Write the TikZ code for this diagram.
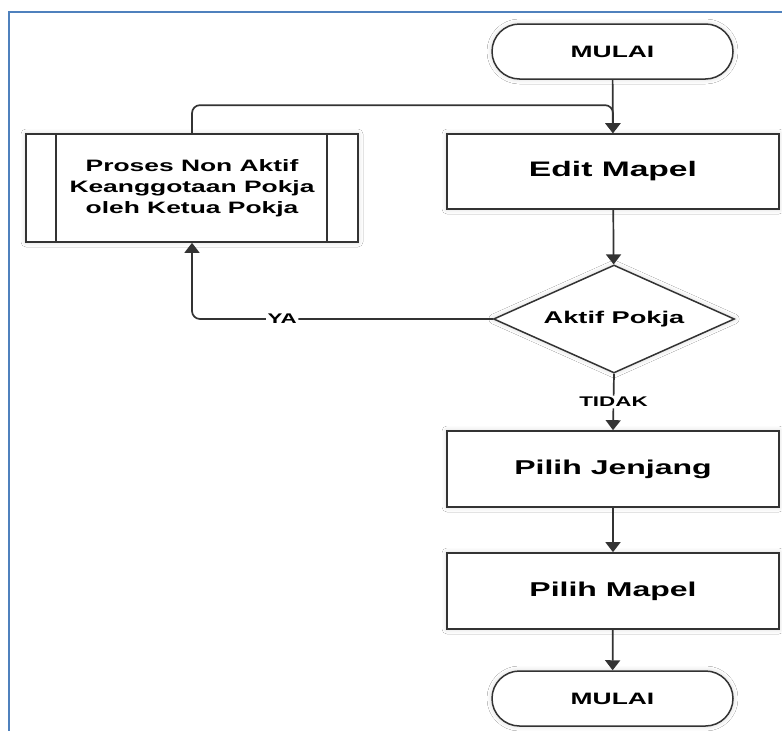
\documentclass[tikz,border=0pt]{standalone}
\usepackage{fontspec}
\newfontfamily\flowfont{Liberation Sans}[FakeStretch=1.6]
\usetikzlibrary{shapes.geometric,shapes.misc,arrows.meta,shadows.blur}
\definecolor{frameblue}{HTML}{4F81BD}
\definecolor{edge}{HTML}{333333}
\tikzset{
  glowy/.style={blur shadow={shadow xshift=0pt,shadow yshift=0pt,shadow blur radius=5pt,shadow opacity=18}},
  procbox/.style={rectangle, draw=edge, line width=1.7pt, fill=white, minimum width=332pt, minimum height=76pt, inner sep=0pt, font=\flowfont\bfseries\fontsize{20}{24}\selectfont, glowy},
  termbox/.style={rounded rectangle, draw=edge, line width=1.5pt, fill=white, minimum width=241pt, minimum height=55pt, inner sep=0pt, font=\flowfont\bfseries\fontsize{16.5}{19}\selectfont, glowy},
  decbox/.style={diamond, draw=edge, line width=1.5pt, fill=white, minimum width=241pt, minimum height=108pt, shape aspect=2.23, inner sep=0pt, font=\flowfont\bfseries\fontsize{17}{20}\selectfont, glowy},
  conn/.style={draw=edge, line width=1.7pt, -{Triangle[length=10pt,width=15pt]}, rounded corners=8pt},
  lbl/.style={fill=white, inner sep=1.5pt, text=black, font=\flowfont\bfseries\fontsize{14}{16}\selectfont}
}
\begin{document}
\begin{tikzpicture}[x=1pt,y=-1pt]
\useasboundingbox (0,0) rectangle (782,731);
\fill[white] (0,0) rectangle (782,731);
\draw[frameblue, line width=2.4pt] (9,731) -- (9,12) -- (782,12);

\node[termbox] (start) at (612.5,51.5) {MULAI};
\node[procbox, minimum height=75pt, font=\flowfont\bfseries\fontsize{21}{25}\selectfont] (edit) at (613,171.5) {Edit Mapel};
\node[procbox, minimum height=108pt, align=center, font=\flowfont\bfseries\fontsize{16.5}{21}\selectfont] (pro) at (192,188) {Proses Non Aktif\\Keanggotaan Pokja\\oleh Ketua Pokja};
\draw[edge, line width=1.7pt] ([xshift=31pt]pro.north west) -- ([xshift=31pt]pro.south west);
\draw[edge, line width=1.7pt] ([xshift=-32pt]pro.north east) -- ([xshift=-32pt]pro.south east);
\node[decbox] (dec) at (614,319) {Aktif Pokja};
\node[procbox] (jen) at (613,469) {Pilih Jenjang};
\node[procbox] (map) at (613,591) {Pilih Mapel};
\node[termbox] (stop) at (612.5,698.5) {MULAI};

\draw[conn] (start) -- (edit);
\draw[conn] (pro.north) -- ++(0,-28) -| (edit.north);
\draw[conn] (edit) -- (dec);
\draw[conn] (dec.west) -| node[lbl, pos=0.35] {YA} (pro.south);
\draw[conn] (dec.south) -- node[lbl, pos=0.5] {TIDAK} (jen.north);
\draw[conn] (jen) -- (map);
\draw[conn] (map) -- (stop);
\end{tikzpicture}
\end{document}
